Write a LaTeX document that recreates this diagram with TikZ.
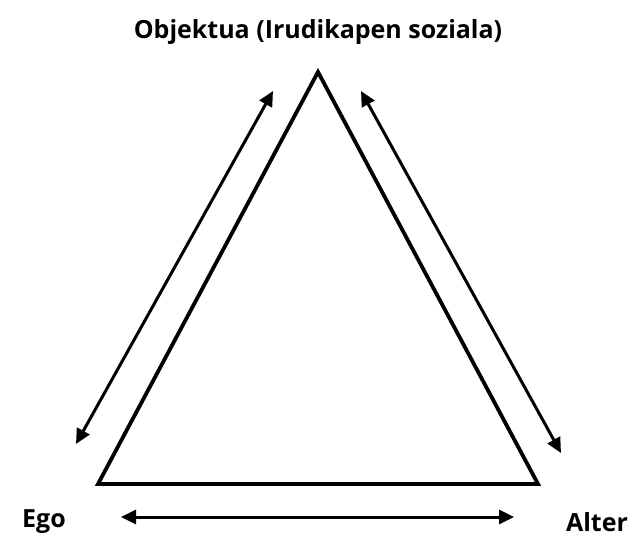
\documentclass[tikz,border=0pt]{standalone}
\usepackage{fontspec}
\setmainfont{Open Sans}
\usetikzlibrary{arrows.meta}
\begin{document}
\begin{tikzpicture}[x=1pt,y=-1pt,
  lbl/.style={font=\fontsize{25}{30}\selectfont\bfseries, inner sep=0pt},
  tri/.style={line width=3.8pt, line join=miter},
  dbl/.style={line width=3pt, {Triangle[length=15pt,width=14pt]}-{Triangle[length=15pt,width=14pt]}}]
\useasboundingbox (0,0) rectangle (635,537);
\coordinate (T) at (318,72);
\coordinate (L) at (98,484);
\coordinate (R) at (538,484);
\draw[tri] (T) -- (L) -- (R) -- cycle;
\node[lbl] (obj) at (318,32) {Objektua (Irudikapen soziala)};
\node[lbl] (ego) at (44,522) {Ego};
\node[lbl] (alter) at (597,522) {Alter};
\coordinate (a1) at (76,444);
\coordinate (a2) at (273,91);
\coordinate (b1) at (361,91);
\coordinate (b2) at (561,453);
\coordinate (c1) at (121,517);
\coordinate (c2) at (514,517);
\draw[dbl] (a1) -- (a2);
\draw[dbl] (b1) -- (b2);
\draw[dbl] (c1) -- (c2);
\end{tikzpicture}
\end{document}
